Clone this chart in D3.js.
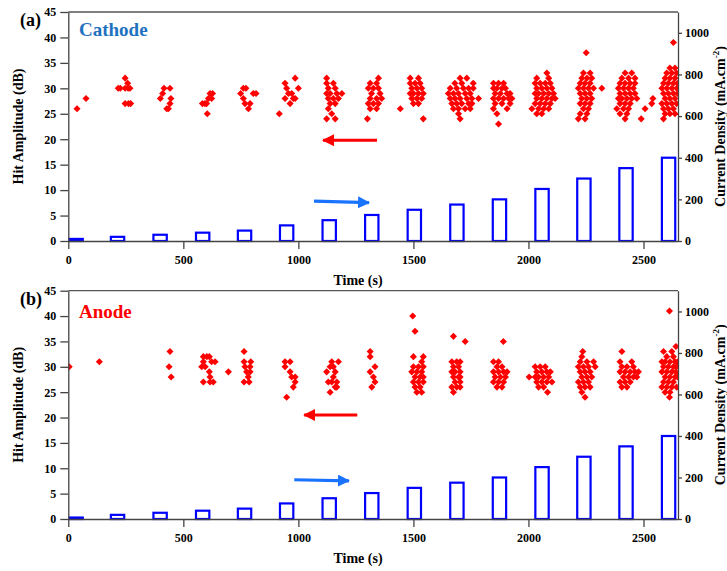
<!DOCTYPE html>
<html>
<head>
<meta charset="utf-8">
<script src="https://cdn.jsdelivr.net/npm/d3@7"></script>
<style>
  body { margin: 0; background: #fff; }
  svg text { font-family: "Liberation Serif", "Times New Roman", serif; font-weight: bold; }
</style>
</head>
<body>
<script>
'use strict';

// current steps drawn as hollow bars: start time (s), width (s), density (mA.cm-2)
const stepStart = [5, 185, 370, 555, 737, 920, 1105, 1290, 1475, 1660, 1845, 2030, 2212, 2395, 2580];
const stepWidth = 58;
const cathodeCurrent = [10, 20, 30, 40, 50, 75, 100, 125, 150, 175, 200, 250, 300, 350, 400];
const anodeCurrent = [7, 20, 30, 40, 50, 75, 100, 125, 150, 175, 200, 250, 300, 350, 400];

const timeTicks = [0, 500, 1000, 1500, 2000, 2500];
const ampTicks = [0, 5, 10, 15, 20, 25, 30, 35, 40, 45];
const densityTicks = [0, 200, 400, 600, 800, 1000];

// AE hits, one row per amplitude level: [dB, time, time, ...]
const cathodeHits = [
  [26, 38], [28, 77],
  [32, 247], [31, 258], [30, 217, 226, 247, 260, 268], [27, 247, 262, 271],
  [30, 416, 442], [29, 410], [28, 400, 446], [27, 442], [26, 428, 435],
  [29, 616, 627], [28, 609, 623], [27, 583, 594, 601], [25, 604],
  [30, 761, 772], [29, 749, 804, 816], [28, 761], [27, 768, 790], [26, 783],
  [32, 986], [31, 942], [30, 949, 1000], [29, 957, 971], [28, 942, 978, 986], [27, 964], [25, 917],
  [32, 1123], [31, 1123, 1152], [30, 1130, 1160], [29, 1123, 1138, 1167, 1189], [28, 1130, 1152, 1174],
  [27, 1138, 1160], [26, 1130], [25, 1145], [24, 1123, 1160],
  [32, 1348], [31, 1312, 1340], [30, 1304, 1326, 1348], [29, 1318, 1355], [28, 1312, 1340, 1362],
  [27, 1304, 1326, 1348], [26, 1312, 1340], [24, 1300],
  [32, 1486, 1522], [31, 1486, 1507, 1529], [30, 1493, 1515, 1536], [29, 1486, 1500, 1522, 1543],
  [28, 1493, 1515, 1536], [27, 1500, 1522], [26, 1443], [24, 1543],
  [32, 1703, 1732], [31, 1680, 1710, 1760], [30, 1660, 1688, 1717, 1740, 1760], [29, 1652, 1674, 1696, 1725, 1747],
  [28, 1660, 1681, 1703, 1732, 1754, 1783], [27, 1667, 1688, 1710, 1740, 1754], [26, 1674, 1696, 1725, 1747],
  [25, 1696], [24, 1703],
  [31, 1848, 1870, 1892], [30, 1848, 1863, 1885, 1900], [29, 1855, 1878, 1907, 1920],
  [28, 1848, 1870, 1892, 1914, 1928], [27, 1855, 1885, 1920], [26, 1848, 1907], [25, 1863], [23, 1870],
  [33, 2080], [32, 2036, 2088], [31, 2029, 2051, 2073, 2095], [30, 2036, 2058, 2080, 2102],
  [29, 2029, 2044, 2066, 2088, 2109], [28, 2036, 2058, 2080, 2102, 2116], [27, 2029, 2051, 2073, 2095],
  [26, 2015, 2044, 2066, 2088], [25, 2036, 2058],
  [37, 2251], [33, 2239, 2268], [32, 2232, 2254, 2275], [31, 2225, 2246, 2268], [30, 2217, 2239, 2261, 2283, 2319],
  [29, 2225, 2246, 2268], [28, 2232, 2254, 2275], [27, 2225, 2246, 2268], [26, 2239, 2261], [25, 2225, 2254],
  [24, 2217, 2246],
  [33, 2420, 2449], [32, 2406, 2435, 2463], [31, 2398, 2420, 2442, 2463], [30, 2391, 2413, 2435, 2456],
  [29, 2398, 2420, 2442, 2463], [28, 2391, 2406, 2428, 2449, 2471, 2541], [27, 2398, 2420, 2442, 2536],
  [26, 2384, 2413, 2435, 2507], [25, 2398, 2428], [24, 2420, 2490],
  [39, 2630], [34, 2615, 2637], [33, 2601, 2623, 2644], [32, 2594, 2615, 2637], [31, 2587, 2608, 2630, 2648],
  [30, 2580, 2601, 2623, 2644], [29, 2587, 2608, 2630, 2648], [28, 2594, 2615, 2637],
  [27, 2580, 2601, 2623, 2644], [26, 2587, 2608, 2630], [25, 2594, 2615, 2637], [24, 2587]
];

const anodeHits = [
  [30, 4], [31, 135],
  [33, 442], [30, 438], [28, 447],
  [32, 587, 602, 613], [31, 587, 623, 638], [30, 580, 595], [29, 613, 696], [28, 616], [27, 587, 616, 630],
  [33, 764], [31, 764, 793], [30, 768, 790], [29, 775, 790], [28, 782], [27, 764, 786],
  [31, 942, 964], [30, 942], [29, 964], [28, 971, 986], [27, 986], [26, 978], [24, 949],
  [31, 1145, 1174], [30, 1138, 1152], [29, 1123, 1160], [28, 1152], [27, 1130, 1145, 1167], [26, 1160, 1167], [25, 1138],
  [33, 1312], [32, 1312], [30, 1333], [29, 1312], [28, 1326], [27, 1333], [26, 1319],
  [40, 1497], [37, 1507], [32, 1500, 1543], [31, 1536], [30, 1500, 1522, 1543], [29, 1493, 1515, 1536],
  [28, 1507, 1529, 1543], [27, 1500, 1522, 1543], [26, 1507, 1529], [25, 1515, 1536],
  [36, 1674], [35, 1725], [31, 1667, 1688, 1703], [30, 1674, 1696], [29, 1667, 1681, 1703],
  [28, 1674, 1696, 1703], [27, 1681, 1703], [26, 1667, 1688, 1703], [25, 1674],
  [35, 1891], [31, 1848, 1870], [30, 1863, 1885], [29, 1848, 1870, 1892, 1907], [28, 1855, 1878, 1900],
  [27, 1848, 1870, 1892], [26, 1863, 1885],
  [28, 2003],
  [30, 2029, 2051, 2073], [29, 2036, 2058, 2080, 2095], [28, 2029, 2044, 2066, 2088], [27, 2036, 2058, 2080, 2102],
  [26, 2044, 2066], [25, 2083],
  [33, 2236], [32, 2232], [31, 2225, 2254, 2283], [30, 2217, 2239, 2261, 2290], [29, 2225, 2246, 2268],
  [28, 2232, 2254, 2275], [27, 2217, 2239, 2261], [26, 2225, 2246, 2268], [25, 2232], [24, 2246],
  [33, 2406], [31, 2398, 2449], [30, 2406, 2428, 2456], [29, 2398, 2420, 2442, 2463, 2478],
  [28, 2413, 2435, 2456, 2471], [27, 2398, 2420, 2442], [26, 2406, 2428],
  [41, 2613], [34, 2641], [33, 2587, 2623], [32, 2601, 2630], [31, 2580, 2594, 2615, 2637, 2648],
  [30, 2587, 2608, 2630, 2644], [29, 2580, 2601, 2623, 2641], [28, 2594, 2615, 2637, 2648],
  [27, 2587, 2608, 2630], [26, 2580, 2601, 2623, 2644], [25, 2594, 2615], [24, 2613]
];

// arrows: red one on amplitude axis [from t, to t, dB], blue one on density axis [from t, to t, from mA, to mA]
const cathodeRedArrow = [1342, 1107, 19.8];
const cathodeBlueArrow = [1068, 1307, 192, 184];
const anodeRedArrow = [1256, 1025, 20.5];
const anodeBlueArrow = [982, 1220, 189, 184];

const left = 68.3, right = 678;

let svg = d3.select('body')
  .append('svg')
  .attr('width', 727)
  .attr('height', 571);

let x = d3.scaleLinear().domain([0, 2650]).range([left, right]);
let plain = d3.format('d');

// arrow heads
let defs = svg.append('defs');
[['headRed', '#ff0000'], ['headBlue', '#1a73ff']].forEach(function(m) {
  defs.append('marker')
    .attr('id', m[0])
    .attr('markerUnits', 'userSpaceOnUse')
    .attr('markerWidth', 12)
    .attr('markerHeight', 12)
    .attr('refX', 11)
    .attr('refY', 6)
    .attr('orient', 'auto')
    .append('path')
    .attr('d', 'M0,0 L12,6 L0,12 Z')
    .attr('fill', m[1]);
});

function drawPanel(p) {
  let y = d3.scaleLinear().domain([0, 45]).range([p.bottom, p.top]);
  let y2 = d3.scaleLinear().domain([0, 1100]).range([p.bottom, p.top]);
  let g = svg.append('g');

  defs.append('clipPath').attr('id', p.id)
    .append('rect')
    .attr('x', left).attr('y', p.top)
    .attr('width', right - left).attr('height', p.bottom - p.top);

  // current density bars
  g.selectAll('.bar')
    .data(p.current)
    .enter()
    .append('rect')
      .attr('class', 'bar')
      .attr('x', (d, i) => x(stepStart[i]))
      .attr('y', d => y2(d))
      .attr('width', x(stepWidth) - x(0))
      .attr('height', d => y2(0) - y2(d))
      .attr('fill', 'none')
      .attr('stroke', '#0000ff')
      .attr('stroke-width', 2.2);

  // hits as red diamonds
  let pts = p.hits.flatMap(r => r.slice(1).map(t => ({ t: t, db: r[0] })));
  g.append('g')
    .attr('clip-path', 'url(#' + p.id + ')')
    .selectAll('path')
    .data(pts)
    .enter()
    .append('path')
      .attr('d', d3.symbol(d3.symbolSquare, 25))
      .attr('transform', d => 'translate(' + x(d.t) + ',' + y(d.db) + ') rotate(45)')
      .attr('fill', '#ff0000');

  // top frame line
  g.append('line')
    .attr('x1', left).attr('x2', right)
    .attr('y1', p.top).attr('y2', p.top)
    .attr('stroke', '#555')
    .attr('stroke-width', 1.3);

  // axes
  let ax = [
    g.append('g').attr('transform', 'translate(' + left + ',0)')
      .call(d3.axisLeft(y).tickValues(ampTicks).tickFormat(plain).tickSize(8).tickPadding(4).tickSizeOuter(0)),
    g.append('g').attr('transform', 'translate(' + right + ',0)')
      .call(d3.axisRight(y2).tickValues(densityTicks).tickFormat(plain).tickSize(4).tickPadding(3).tickSizeOuter(0)),
    g.append('g').attr('transform', 'translate(0,' + p.bottom + ')')
      .call(d3.axisBottom(x).tickValues(timeTicks).tickFormat(plain).tickSize(8).tickPadding(6).tickSizeOuter(0))
  ];
  ax.forEach(function(a) {
    a.attr('font-family', null).attr('font-size', null);
    a.selectAll('path, line').attr('stroke', '#444').attr('stroke-width', 1.3);
    a.selectAll('text').attr('fill', '#000').style('font-size', '12px');
  });

  // arrows
  g.append('line')
    .attr('x1', x(p.red[0])).attr('y1', y(p.red[2]))
    .attr('x2', x(p.red[1])).attr('y2', y(p.red[2]))
    .attr('stroke', '#ff0000').attr('stroke-width', 3.2)
    .attr('marker-end', 'url(#headRed)');
  g.append('line')
    .attr('x1', x(p.blue[0])).attr('y1', y2(p.blue[2]))
    .attr('x2', x(p.blue[1])).attr('y2', y2(p.blue[3]))
    .attr('stroke', '#1a73ff').attr('stroke-width', 3.2)
    .attr('marker-end', 'url(#headBlue)');

  // labels
  let mid = (p.top + p.bottom) / 2;
  g.append('text')
    .attr('x', 20).attr('y', p.top + 14)
    .style('font-size', '18px')
    .text(p.tag);

  g.append('text')
    .attr('x', 79).attr('y', p.nameY)
    .style('font-size', '19px')
    .attr('fill', p.nameColor)
    .text(p.name);

  g.append('text')
    .attr('transform', 'translate(22.5,' + mid + ')rotate(-90)')
    .attr('text-anchor', 'middle')
    .style('font-size', '14px')
    .text('Hit Amplitude (dB)');

  let rl = g.append('text')
    .attr('transform', 'translate(725,' + mid + ')rotate(-90)')
    .attr('text-anchor', 'middle')
    .style('font-size', '14px');
  rl.append('tspan').text('Current Density (mA.cm');
  rl.append('tspan').attr('dy', -6).style('font-size', '9px').text('-2');
  rl.append('tspan').attr('dy', 6).text(')');

  g.append('text')
    .attr('x', 358).attr('y', p.bottom + 44)
    .attr('text-anchor', 'middle')
    .style('font-size', '14px')
    .text('Time (s)');
}

drawPanel({
  id: 'clipA', top: 12, bottom: 241,
  hits: cathodeHits, current: cathodeCurrent,
  tag: '(a)', name: 'Cathode', nameColor: '#1f72c0', nameY: 36,
  red: cathodeRedArrow, blue: cathodeBlueArrow
});

drawPanel({
  id: 'clipB', top: 290.7, bottom: 519,
  hits: anodeHits, current: anodeCurrent,
  tag: '(b)', name: 'Anode', nameColor: '#ff0000', nameY: 318,
  red: anodeRedArrow, blue: anodeBlueArrow
});
</script>
</body>
</html>
